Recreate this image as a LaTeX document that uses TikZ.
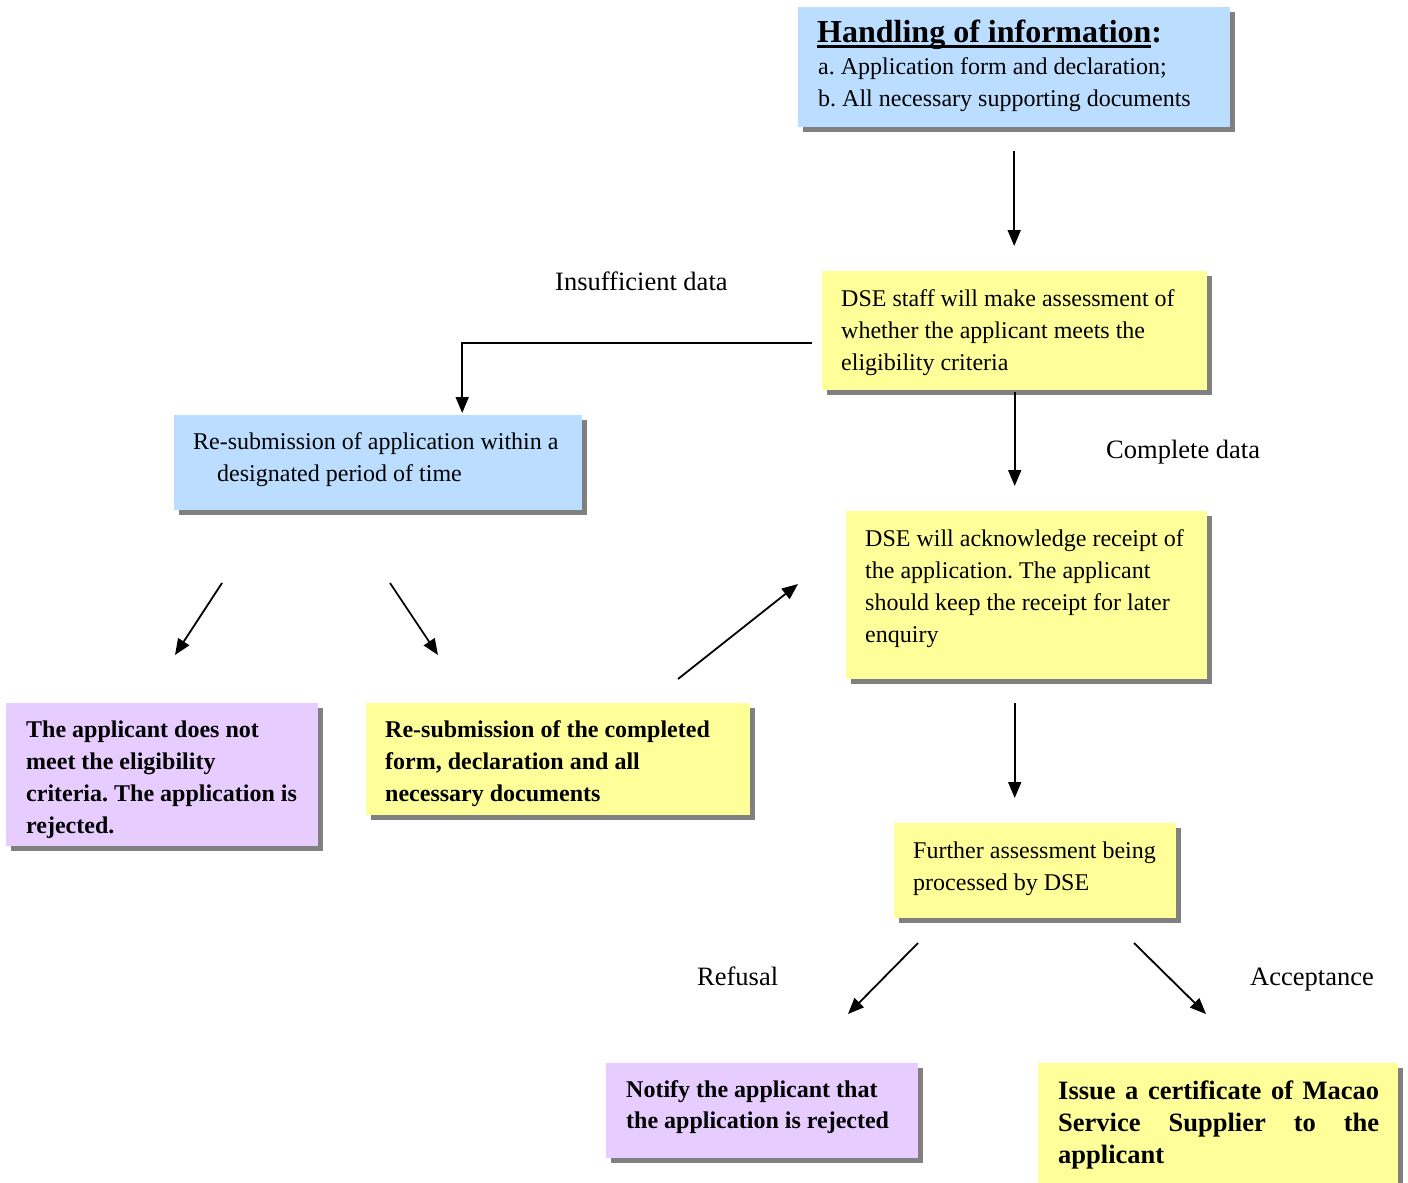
\documentclass[tikz,border=0pt]{standalone}
\usepackage{fontspec}
\setmainfont{Liberation Serif}
\usetikzlibrary{shadows,calc,arrows.meta}
\definecolor{boxblue}{RGB}{187,221,255}
\definecolor{boxyellow}{RGB}{255,255,153}
\definecolor{boxpurple}{RGB}{230,204,255}
\definecolor{shadowgray}{RGB}{128,128,128}
\newcommand\myul[1]{\setbox0\hbox{#1}\rlap{\rule[-6pt]{\wd0}{3pt}}\box0}
\frenchspacing
\begin{document}
\begin{tikzpicture}[x=1pt,y=-1pt,
  box/.style={rectangle, draw=none, inner sep=0pt, anchor=north west,
    drop shadow={shadow xshift=5pt, shadow yshift=-5pt, fill=shadowgray, opacity=1}},
  bluebox/.style={box, fill=boxblue},
  yellowbox/.style={box, fill=boxyellow},
  purplebox/.style={box, fill=boxpurple},
  boxtext/.style={inner sep=0pt, anchor=base west, align=left, font=\fontsize{24}{32}\selectfont\frenchspacing},
  boldtext/.style={boxtext, font=\fontsize{24}{32}\selectfont\bfseries\frenchspacing},
  lbl/.style={inner sep=0pt, anchor=base west, font=\fontsize{26.5}{32}\selectfont},
  arr/.style={line width=1.8pt, -{Triangle[length=16pt,width=13pt]}}
]
\useasboundingbox (0,0) rectangle (1408,1183);
\clip (0,0) rectangle (1408,1183);

% boxes
\node[bluebox, minimum width=432pt, minimum height=120pt] (hbox) at (798,7) {};
\node[yellowbox, minimum width=385pt, minimum height=119pt] (dbox) at (822,271) {};
\node[bluebox, minimum width=408pt, minimum height=95pt] (rbox) at (174,415) {};
\node[yellowbox, minimum width=361pt, minimum height=168pt] (abox) at (846,511) {};
\node[purplebox, minimum width=312pt, minimum height=143pt] (nbox) at (6,703) {};
\node[yellowbox, minimum width=384pt, minimum height=112pt] (cbox) at (366,703) {};
\node[yellowbox, minimum width=282pt, minimum height=95pt] (fbox) at (894,823) {};
\node[purplebox, minimum width=312pt, minimum height=95pt] (obox) at (606,1063) {};
\node[yellowbox, minimum width=360pt, minimum height=140pt] (ibox) at (1038,1063) {};

% texts (anchored at the baseline of their last line)
\node[inner sep=0pt, anchor=base west, font=\fontsize{32}{38}\selectfont\bfseries] (htitle) at (817,42) {\myul{Handling of information}:};
\node[boxtext] (htext) at (818,106) {a. Application form and declaration;\\b. All necessary supporting documents};
\node[boxtext] (dtext) at (841,370) {DSE staff will make assessment of\\whether the applicant meets the\\eligibility criteria};
\node[boxtext] (rtext) at (193,481) {Re-submission of application within a\\\hspace*{24pt}designated period of time};
\node[boxtext] (atext) at (865,642) {DSE will acknowledge receipt of\\the application. The applicant\\should keep the receipt for later\\enquiry};
\node[boldtext] (ntext) at (26,833) {The applicant does not\\meet the eligibility\\criteria. The application is\\rejected.};
\node[boldtext] (ctext) at (385,801) {Re-submission of the completed\\form, declaration and all\\necessary documents};
\node[boxtext] (ftext) at (913,890) {Further assessment being\\processed by DSE};
\node[boxtext, font=\fontsize{24}{31}\selectfont\bfseries] (otext) at (626,1128) {Notify the applicant that\\the application is rejected};
\node[boxtext, font=\fontsize{26.5}{32}\selectfont\bfseries] (itext) at (1058,1163) {\makebox[321pt][s]{Issue a certificate of Macao}\\\makebox[321pt][s]{Service Supplier to the}\\applicant};

% labels
\node[lbl] (linsuf) at (555,290) {Insufficient data};
\node[lbl] (lcomp) at (1106,458) {Complete data};
\node[lbl] (lref) at (697,985) {Refusal};
\node[lbl] (lacc) at (1250,985) {Acceptance};

% free ends of the diagonal connectors
\coordinate (d1a) at (222,583); \coordinate (d1b) at (175,655);
\coordinate (d2a) at (390,583); \coordinate (d2b) at (438,655);
\coordinate (d3a) at (678,679); \coordinate (d3b) at (798,584);
\coordinate (d4a) at (918,943); \coordinate (d4b) at (848,1014);
\coordinate (d5a) at (1134,943); \coordinate (d5b) at (1206,1014);

% connectors
\draw[arr, shorten <=24pt, shorten >=25pt] (hbox.south) -- (hbox.south |- dbox.north);
\draw[arr] ([xshift=-10pt, yshift=-12.5pt]dbox.west) -| ([xshift=84pt, yshift=2pt]rbox.north);
\draw[arr, shorten <=2pt, shorten >=25pt] (dbox.south) -- (dbox.south |- abox.north);
\draw[arr, shorten <=24pt, shorten >=25pt] (abox.south -| dbox.south) -- (fbox.north -| dbox.south);
\draw[arr] (d1a) -- (d1b);
\draw[arr] (d2a) -- (d2b);
\draw[arr] (d3a) -- (d3b);
\draw[arr] (d4a) -- (d4b);
\draw[arr] (d5a) -- (d5b);
\end{tikzpicture}
\end{document}
